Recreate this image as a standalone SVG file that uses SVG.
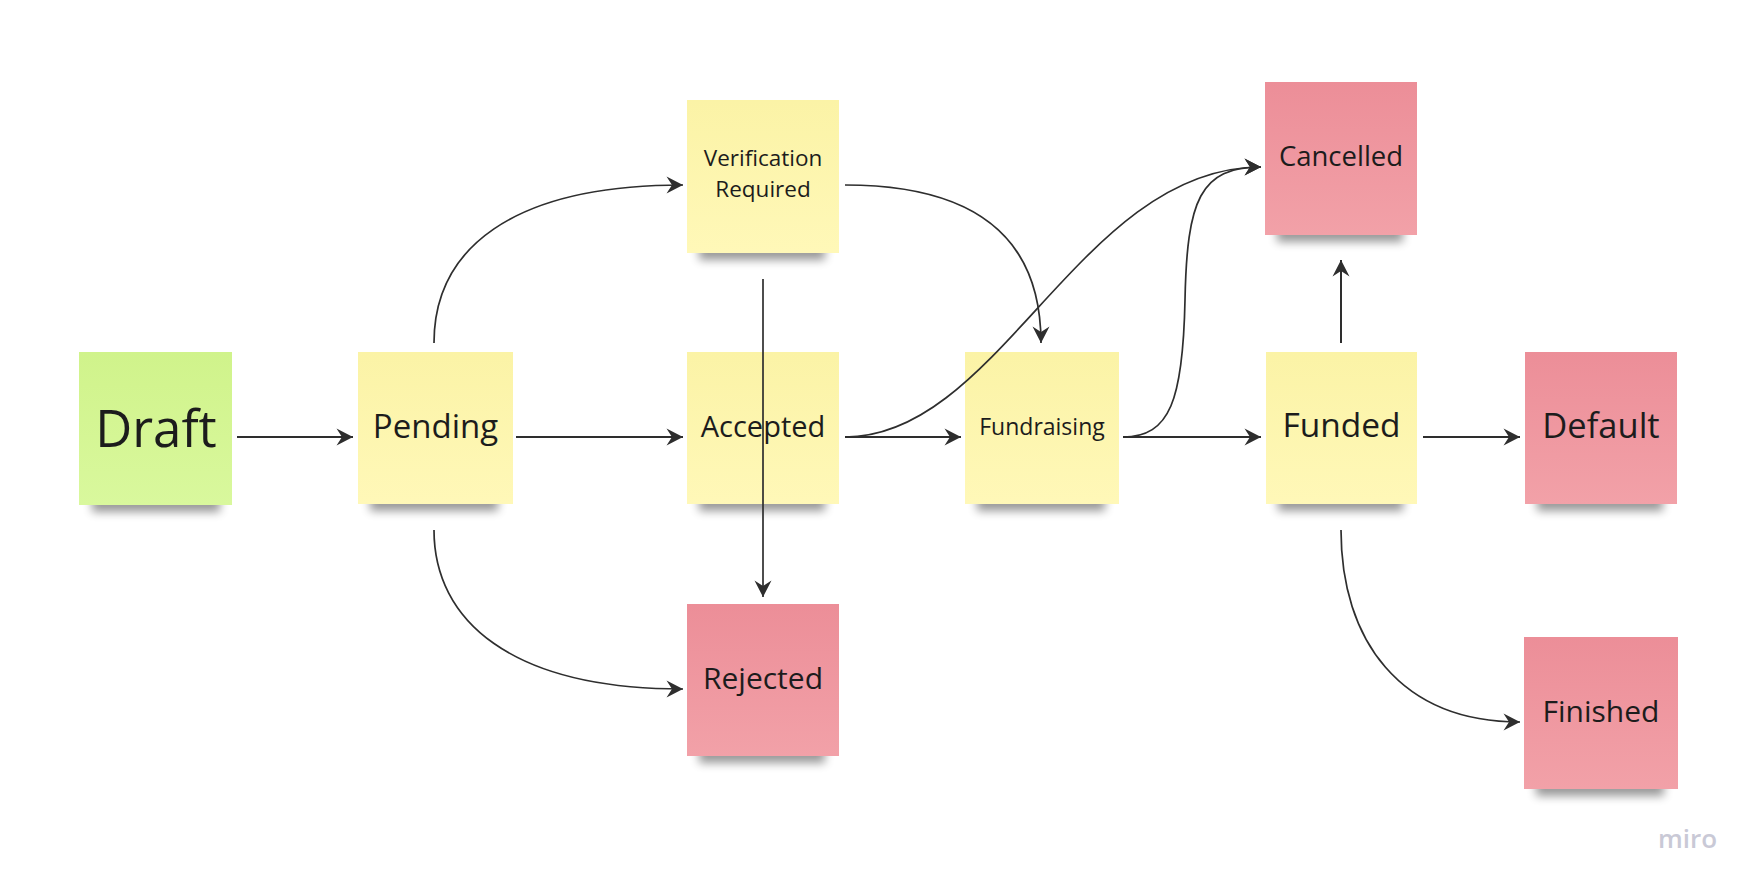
<svg xmlns="http://www.w3.org/2000/svg" width="1756" height="889" viewBox="0 0 1756 889">
<style>
.bg{fill:#ffffff}
.note-y{fill:url(#gy)}
.note-g{fill:url(#gg)}
.note-p{fill:url(#gp)}
.sh{fill:#000;opacity:0.4;filter:url(#blur)}
.lbl{font-family:"Open Sans","Noto Sans","Liberation Sans",sans-serif;fill:#1c1c1c;text-anchor:middle}
.ln{fill:none;stroke:#2e2e2e;stroke-width:2;marker-end:url(#ah)}
.cv{fill:none;stroke:#2e2e2e;stroke-width:1.7;marker-end:url(#ah)}
.logo{font-family:"Open Sans","Noto Sans","Liberation Sans",sans-serif;font-weight:600;fill:#c9c9d6}
</style>
<defs>
<linearGradient id="gy" x1="0" y1="0" x2="0" y2="1">
<stop offset="0" stop-color="#fbf3a6"/><stop offset="1" stop-color="#fff8b8"/>
</linearGradient>
<linearGradient id="gg" x1="0" y1="0" x2="0" y2="1">
<stop offset="0" stop-color="#d0f38b"/><stop offset="1" stop-color="#d9f89d"/>
</linearGradient>
<linearGradient id="gp" x1="0" y1="0" x2="0" y2="1">
<stop offset="0" stop-color="#ec8e98"/><stop offset="1" stop-color="#f2a1a8"/>
</linearGradient>
<filter id="blur" x="-20%" y="-100%" width="140%" height="300%">
<feGaussianBlur stdDeviation="5"/>
</filter>
<marker id="ah" viewBox="0 0 18 18" markerWidth="18" markerHeight="18" refX="17.5" refY="9" orient="auto" markerUnits="userSpaceOnUse">
<path d="M1,0.5 L17.5,9 L1,17.5 L6.5,9 Z" fill="#2e2e2e"/>
</marker>
</defs>
<rect class="bg" x="0" y="0" width="1756" height="889"/>

<g id="node-draft">
<rect class="sh" x="92" y="490" width="128" height="22"/>
<rect class="note-g" x="79" y="352" width="153" height="153"/>
<text class="lbl" x="156" y="447" font-size="51">Draft</text>
</g>

<g id="node-pending">
<rect class="sh" x="370" y="489" width="128" height="22"/>
<rect class="note-y" x="358" y="352" width="155" height="152"/>
<text class="lbl" x="435.5" y="438" font-size="33">Pending</text>
</g>

<g id="node-verification">
<rect class="sh" x="699" y="238" width="126" height="22"/>
<rect class="note-y" x="687" y="100" width="152" height="153"/>
<text class="lbl" x="763" y="166" font-size="22.5">Verification</text>
<text class="lbl" x="763" y="197" font-size="22.5">Required</text>
</g>

<g id="node-accepted">
<rect class="sh" x="699" y="489" width="126" height="22"/>
<rect class="note-y" x="687" y="352" width="152" height="152"/>
<text class="lbl" x="763" y="437" font-size="29">Accepted</text>
</g>

<g id="node-rejected">
<rect class="sh" x="699" y="741" width="126" height="22"/>
<rect class="note-p" x="687" y="604" width="152" height="152"/>
<text class="lbl" x="763" y="689" font-size="30">Rejected</text>
</g>

<g id="node-fundraising">
<rect class="sh" x="977" y="489" width="128" height="22"/>
<rect class="note-y" x="965" y="352" width="154" height="152"/>
<text class="lbl" x="1042" y="435" font-size="23">Fundraising</text>
</g>

<g id="node-cancelled">
<rect class="sh" x="1277" y="220" width="126" height="22"/>
<rect class="note-p" x="1265" y="82" width="152" height="153"/>
<text class="lbl" x="1341" y="166" font-size="27.5">Cancelled</text>
</g>

<g id="node-funded">
<rect class="sh" x="1278" y="489" width="125" height="22"/>
<rect class="note-y" x="1266" y="352" width="151" height="152"/>
<text class="lbl" x="1341.5" y="437" font-size="33.5">Funded</text>
</g>

<g id="node-default">
<rect class="sh" x="1537" y="489" width="126" height="22"/>
<rect class="note-p" x="1525" y="352" width="152" height="152"/>
<text class="lbl" x="1601" y="438" font-size="34.5">Default</text>
</g>

<g id="node-finished">
<rect class="sh" x="1536" y="774" width="128" height="22"/>
<rect class="note-p" x="1524" y="637" width="154" height="152"/>
<text class="lbl" x="1601" y="722" font-size="30">Finished</text>
</g>

<g id="connectors">
<path class="ln" d="M237,437 H353"/>
<path class="ln" d="M516,437 H683"/>
<path class="ln" d="M845,437 H961"/>
<path class="ln" d="M1123,437 H1261"/>
<path class="ln" d="M1423,437 H1520"/>
<path class="ln" d="M1341,343 V260"/>
<path class="cv" d="M763,279 V597"/>
<path class="cv" d="M434,343 C434,250 510,185 683,185"/>
<path class="cv" d="M434,530 C434,620 510,689 683,689"/>
<path class="cv" d="M845,185 C990,185 1041,250 1041,343"/>
<path class="cv" d="M845,437 C1000,437 1080,167 1261,167"/>
<path class="cv" d="M1123,437 C1170,437 1183,400 1185,300 C1187,200 1200,167 1261,167"/>
<path class="cv" d="M1341,530 C1341,640 1400,722 1520,722"/>
</g>

<text class="logo" x="1658" y="848" font-size="26">miro</text>
</svg>
